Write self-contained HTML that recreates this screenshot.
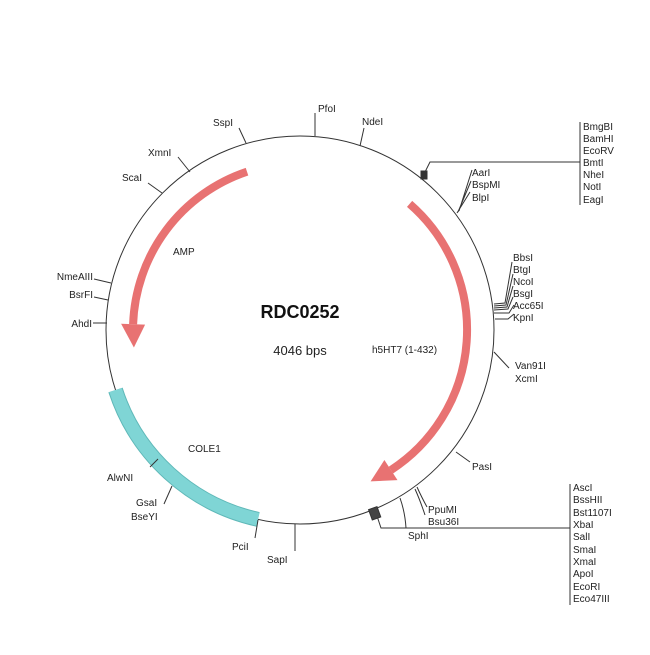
<!DOCTYPE html>
<html><head><meta charset="utf-8"><style>
html,body{margin:0;padding:0;background:#fff}
svg text{font-family:"Liberation Sans",Arial,sans-serif;font-size:10px;fill:#222}
</style></head><body>
<svg width="650" height="650" viewBox="0 0 650 650" xmlns="http://www.w3.org/2000/svg">
<circle cx="300" cy="330" r="194" fill="none" stroke="#333" stroke-width="1"/>
<!-- COLE1 -->
<path d="M115.5 390 A194 194 0 0 0 258 519.4" fill="none" stroke="#5fb8b8" stroke-width="15"/>
<path d="M115.5 390 A194 194 0 0 0 258 519.4" fill="none" stroke="#7fd5d5" stroke-width="13"/>
<!-- AMP -->
<path d="M247 171.7 A167 167 0 0 0 133.1 324.2" fill="none" stroke="#e87272" stroke-width="8"/>
<polygon points="121.1,323.8 145.1,324.6 133.9,347.5" fill="#e87272"/>
<!-- h5HT7 -->
<path d="M409.6 203.9 A167 167 0 0 1 390.9 470.1" fill="none" stroke="#e87272" stroke-width="8"/>
<polygon points="384.4,460 397.5,480.1 370.6,481.4" fill="#e87272"/>
<g stroke="#333" stroke-width="1" fill="none">
<line x1="315" y1="136" x2="315" y2="113"/>
<line x1="360" y1="146" x2="364" y2="128"/>
<line x1="246" y1="143" x2="239" y2="128"/>
<line x1="190" y1="172" x2="178" y2="157"/>
<line x1="162" y1="193" x2="148" y2="183"/>
<line x1="111" y1="283" x2="94" y2="279"/>
<line x1="108" y1="300" x2="94" y2="297"/>
<line x1="107" y1="323" x2="93" y2="323"/>
<path d="M457 213 L470 192 M458 212 L471 181 M459 211 L472 170"/>
<path d="M424 174 L430 162 L580 162"/>
<rect x="421" y="171" width="6" height="8" fill="#333"/>
<line x1="580" y1="122" x2="580" y2="205"/>
<path d="M494 304 L505 303 L512 262 M494 306 L506 305 L513 274 M494 308 L507 307 L513 286 M494 310 L508 309 L513 297 M494 313 L509 313 L514 305 M495 319 L508 319 L514 314"/>
<path d="M494 352 L509 368"/>
<line x1="456" y1="452" x2="470" y2="462"/>
<path d="M415 489 Q420 500 425 515 M417 487 Q422 498 427 507"/>
<path d="M400 498 Q405 512 406 528"/>
<path d="M375 510 L381 528 L570 528"/>
<rect x="370" y="508" width="9" height="11" fill="#444" transform="rotate(-20 374 513)"/>
<line x1="570" y1="484" x2="570" y2="605"/>
<line x1="158" y1="459" x2="150" y2="467"/>
<line x1="172" y1="486" x2="164" y2="504"/>
<line x1="258" y1="520" x2="255" y2="538"/>
<line x1="295" y1="524" x2="295" y2="551"/>
</g>
<text x="318" y="112">PfoI</text>
<text x="362" y="125">NdeI</text>
<text x="213" y="126">SspI</text>
<text x="148" y="156">XmnI</text>
<text x="122" y="181">ScaI</text>
<text x="93" y="280" text-anchor="end">NmeAIII</text>
<text x="93" y="298" text-anchor="end">BsrFI</text>
<text x="92" y="327" text-anchor="end">AhdI</text>
<text x="472" y="176">AarI</text>
<text x="472" y="188">BspMI</text>
<text x="472" y="201">BlpI</text>
<g>
<text x="583" y="130">BmgBI</text><text x="583" y="142">BamHI</text><text x="583" y="154">EcoRV</text><text x="583" y="166">BmtI</text><text x="583" y="178">NheI</text><text x="583" y="190">NotI</text><text x="583" y="203">EagI</text>
</g>
<text x="513" y="261">BbsI</text><text x="513" y="273">BtgI</text><text x="513" y="285">NcoI</text><text x="513" y="297">BsgI</text><text x="513" y="309">Acc65I</text><text x="513" y="321">KpnI</text>
<text x="515" y="369">Van91I</text><text x="515" y="382">XcmI</text>
<text x="472" y="470">PasI</text>
<text x="428" y="513">PpuMI</text><text x="428" y="525">Bsu36I</text>
<text x="408" y="539">SphI</text>
<g>
<text x="573" y="491">AscI</text><text x="573" y="503">BssHII</text><text x="573" y="516">Bst1107I</text><text x="573" y="528">XbaI</text><text x="573" y="540">SalI</text><text x="573" y="553">SmaI</text><text x="573" y="565">XmaI</text><text x="573" y="577">ApoI</text><text x="573" y="590">EcoRI</text><text x="573" y="602">Eco47III</text>
</g>
<text x="107" y="481">AlwNI</text>
<text x="136" y="506">GsaI</text><text x="131" y="520">BseYI</text>
<text x="232" y="550">PciI</text>
<text x="267" y="563">SapI</text>
<text x="300" y="318" text-anchor="middle" style="font-size:18px;font-weight:bold;fill:#111">RDC0252</text>
<text x="300" y="355" text-anchor="middle" style="font-size:13px">4046 bps</text>
<text x="173" y="255">AMP</text>
<text x="372" y="353">h5HT7 (1-432)</text>
<text x="188" y="452">COLE1</text>
</svg>
</body></html>
